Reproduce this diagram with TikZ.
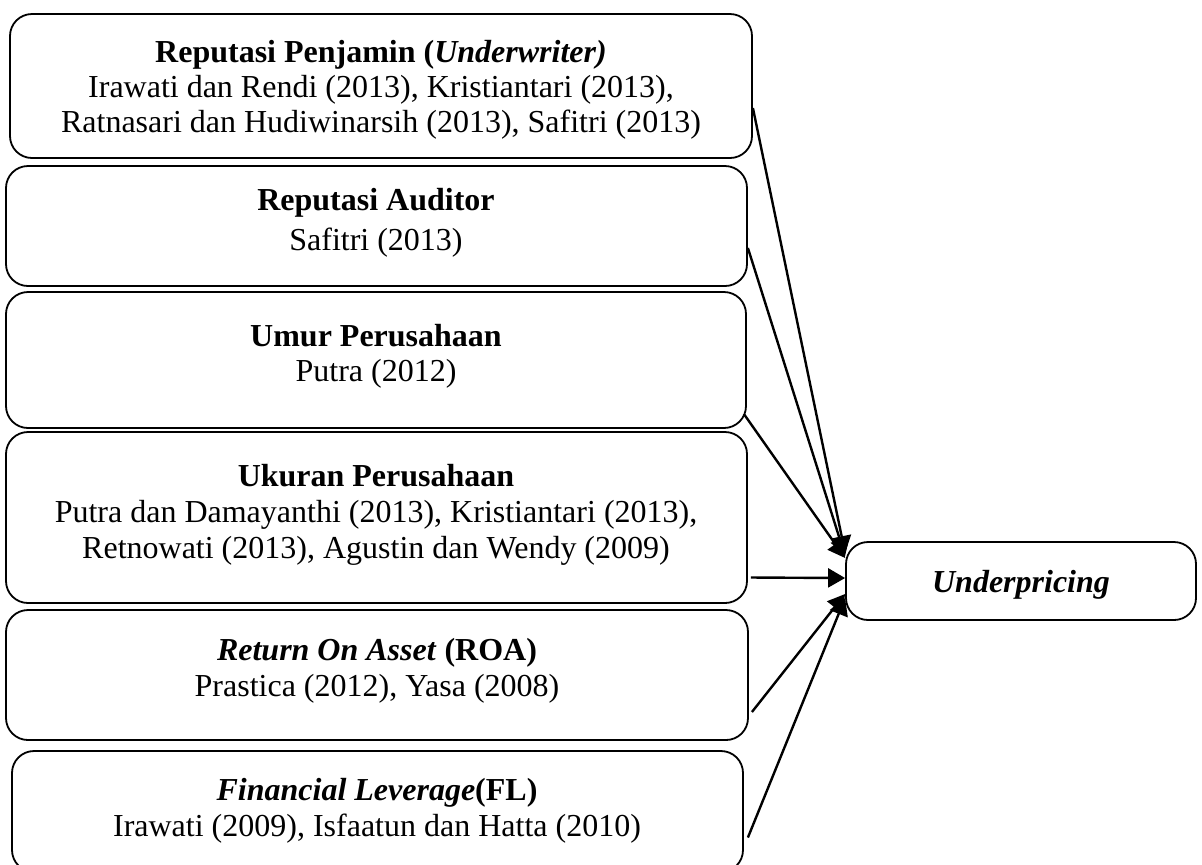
\documentclass[tikz,border=0pt]{standalone}
\usepackage{fontspec}
\setmainfont{Liberation Serif}
\usetikzlibrary{arrows.meta,calc}
\begin{document}
\begin{tikzpicture}[x=0.5pt,y=-0.5pt,
  box/.style={draw, line width=0.9pt, rounded corners=11pt, inner sep=0pt},
  txt/.style={align=center, font=\fontsize{16}{17.5}\selectfont, inner sep=0pt},
  arr/.style={line width=1.2pt, -{Triangle[length=8.5pt,width=9.5pt]}}]
\useasboundingbox (0,0) rectangle (1202,864);
% boxes
\node[box, minimum width=371pt, minimum height=72pt] (b1) at (381,86) {};
\node[box, minimum width=370.5pt, minimum height=60pt] (b2) at (376.5,226) {};
\node[box, minimum width=370pt, minimum height=68pt] (b3) at (376,360) {};
\node[box, minimum width=370.5pt, minimum height=85.5pt] (b4) at (376.5,517.5) {};
\node[box, minimum width=371pt, minimum height=65pt] (b5) at (377,675) {};
\node[box, minimum width=365.5pt, minimum height=60.5pt] (b6) at (377.5,811.5) {};
\node[box, minimum width=175pt, minimum height=39pt] (u) at (1021,581) {};
% texts
\node[txt] (t1) at (381,90) {\textbf{Reputasi Penjamin (\textit{Underwriter)}}\\
Irawati dan Rendi (2013), Kristiantari (2013),\\
Ratnasari dan Hudiwinarsih (2013), Safitri (2013)};
\node[txt] (t2) at (376,223) {\textbf{Reputasi Auditor}\\[2.5pt]Safitri (2013)};
\node[txt] (t3) at (376,356) {\textbf{Umur Perusahaan}\\Putra (2012)};
\node[txt, font=\fontsize{16}{18}\selectfont] (t4) at (376,515) {\textbf{Ukuran Perusahaan}\\
Putra dan Damayanthi (2013), Kristiantari (2013),\\
Retnowati (2013), Agustin dan Wendy (2009)};
\node[txt, font=\fontsize{16}{18}\selectfont] (t5) at (377,671) {\textbf{\textit{Return On Asset} (ROA)}\\Prastica (2012), Yasa (2008)};
\node[txt, font=\fontsize{16}{18}\selectfont] (t6) at (377,811) {\textbf{\textit{Financial Leverage}(FL)}\\Irawati (2009), Isfaatun dan Hatta (2010)};
\node[txt] (tu) at (1021,585) {\textbf{\textit{Underpricing}}};
% connectors
\draw[arr] ([yshift=-11pt]b1.east) -- ([yshift=14pt]u.west);
\draw[arr] ([yshift=-11pt]b2.east) -- ([yshift=12.5pt]u.west);
\draw[arr] ([xshift=-1.5pt,yshift=-27pt]b3.east) -- ([yshift=11.5pt]u.west);
\draw[arr] ([xshift=1.5pt,yshift=-30pt]b4.east) -- ([yshift=1.5pt]u.west);
\draw[arr] ([xshift=1.5pt,yshift=-18.5pt]b5.east) -- ([yshift=-6.5pt]u.west);
\draw[arr] ([xshift=2pt,yshift=-13pt]b6.east) -- ([yshift=-8.5pt]u.west);
\end{tikzpicture}
\end{document}
